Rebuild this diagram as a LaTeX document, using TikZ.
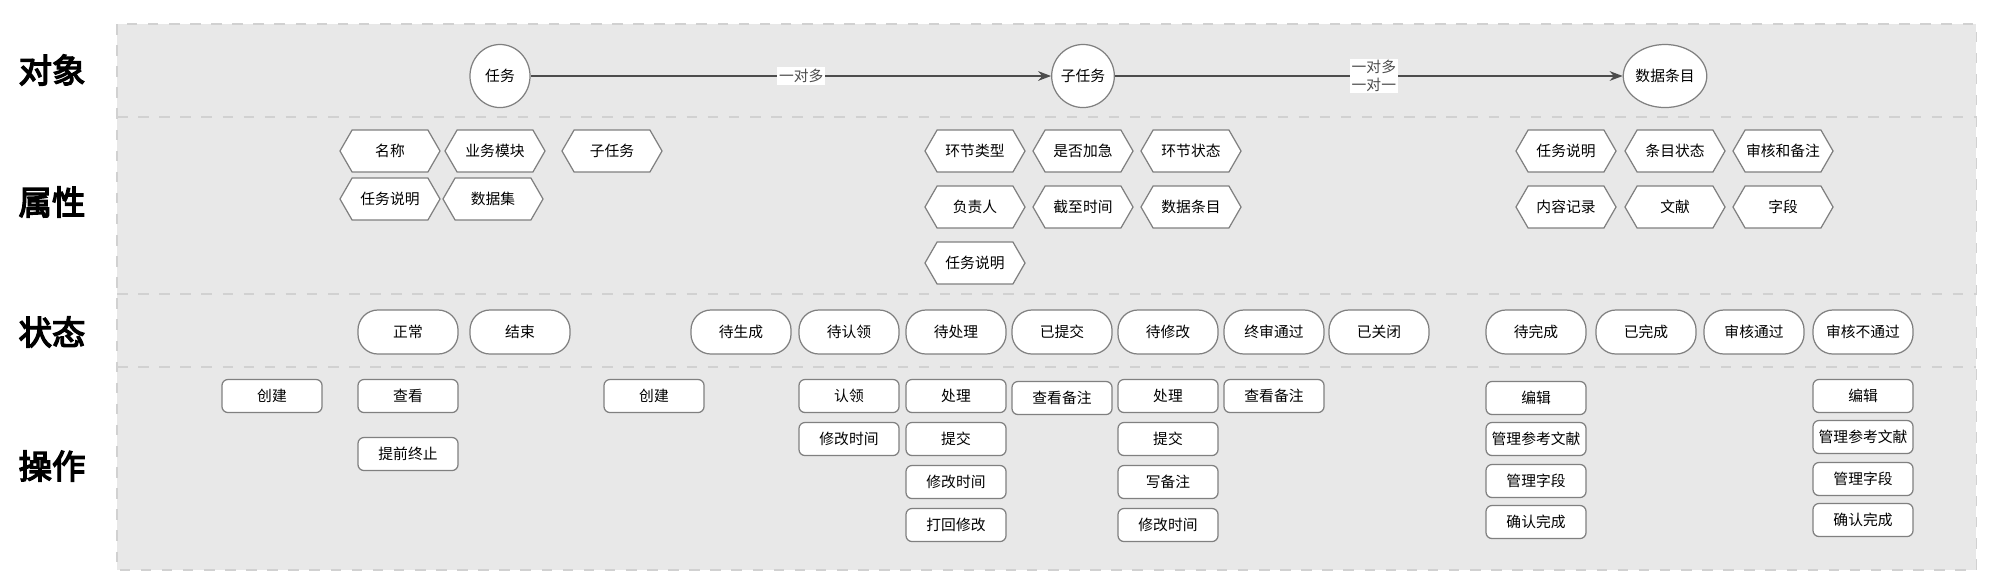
\documentclass[tikz,border=0pt]{standalone}
\usepackage{fontspec}
\setmainfont{Noto Sans CJK SC}[AutoFakeBold=4]
\usetikzlibrary{arrows.meta,shapes.symbols,shapes.geometric}
\begin{document}
\begin{tikzpicture}[
    x=0.01cm, y=-0.01cm,
    font=\fontsize{4.2}{5}\selectfont,
    obj/.style = {
      draw=black!50, fill=white, ellipse, inner sep=0pt,
      minimum width=0.6cm, minimum height=0.63cm, line width=0.35pt
    },
    attr/.style = {
      draw=black!50, fill=white, signal, signal to=east and west,
      signal pointer angle=120, inner sep=0pt, line width=0.35pt,
      minimum width=1cm, minimum height=0.42cm
    },
    state/.style = {
      draw=black!50, fill=white, rounded corners=0.2cm, inner sep=0pt,
      minimum width=1cm, minimum height=0.44cm, line width=0.35pt
    },
    op/.style = {
      draw=black!50, fill=white, rounded corners=0.06cm, inner sep=0pt,
      minimum width=1cm, minimum height=0.33cm, line width=0.35pt
    },
    rowlbl/.style = {font=\fontsize{9.5}{11}\selectfont\bfseries},
    sep/.style = {black!18, dashed, line width=0.3pt}
  ]
\useasboundingbox (0,0) rectangle (2000,584);
% panel
\fill[black!9] (117,24) rectangle (1976,570);
\draw[sep] (117,24) rectangle (1976,570);
\foreach \y in {117,294,367}
  \draw[sep] (117,\y) -- (1976,\y);

% row labels
\node[rowlbl] (lobj)   at (52,70)  {对象};
\node[rowlbl] (lattr)  at (52,202) {属性};
\node[rowlbl] (lstate) at (52,332) {状态};
\node[rowlbl] (lop)    at (52,466) {操作};

% objects
\node[obj] (task)  at (500,76)  {任务};
\node[obj] (sub)   at (1083,76) {子任务};
\node[obj] (item)  at (1665,76) {数据条目};
\draw[-{Stealth[length=1.3mm]},black!70,line width=0.4pt] (task) -- node[fill=white,inner sep=0.5pt,pos=0.52] {一对多} (sub);
\draw[-{Stealth[length=1.3mm]},black!70,line width=0.4pt] (sub) -- node[fill=white,inner sep=0.5pt,align=center,pos=0.51] {一对多\\一对一} (item);

% attributes
\node[attr] (a1) at (390,151) {名称};
\node[attr] (a2) at (495,151) {业务模块};
\node[attr] (a3) at (612,151) {子任务};
\node[attr] (a4) at (390,199) {任务说明};
\node[attr] (a5) at (493,199) {数据集};
\node[attr] (b1) at (975,151)  {环节类型};
\node[attr] (b2) at (1083,151) {是否加急};
\node[attr] (b3) at (1191,151) {环节状态};
\node[attr] (b4) at (975,207)  {负责人};
\node[attr] (b5) at (1083,207) {截至时间};
\node[attr] (b6) at (1191,207) {数据条目};
\node[attr] (b7) at (975,263)  {任务说明};
\node[attr] (c1) at (1566,151) {任务说明};
\node[attr] (c2) at (1675,151) {条目状态};
\node[attr] (c3) at (1783,151) {审核和备注};
\node[attr] (c4) at (1566,207) {内容记录};
\node[attr] (c5) at (1675,207) {文献};
\node[attr] (c6) at (1783,207) {字段};

% states
\node[state] (s1)  at (408,332)  {正常};
\node[state] (s2)  at (520,332)  {结束};
\node[state] (s3)  at (741,332)  {待生成};
\node[state] (s4)  at (849,332)  {待认领};
\node[state] (s5)  at (956,332)  {待处理};
\node[state] (s6)  at (1062,332) {已提交};
\node[state] (s7)  at (1168,332) {待修改};
\node[state] (s8)  at (1274,332) {终审通过};
\node[state] (s9)  at (1379,332) {已关闭};
\node[state] (s10) at (1536,332) {待完成};
\node[state] (s11) at (1646,332) {已完成};
\node[state] (s12) at (1754,332) {审核通过};
\node[state] (s13) at (1863,332) {审核不通过};

% operations
\node[op] (o1)  at (272,396)  {创建};
\node[op] (o2)  at (408,396)  {查看};
\node[op] (o3)  at (408,454)  {提前终止};
\node[op] (o4)  at (654,396)  {创建};
\node[op] (o5)  at (849,396)  {认领};
\node[op] (o6)  at (849,439)  {修改时间};
\node[op] (o7)  at (956,396)  {处理};
\node[op] (o8)  at (956,439)  {提交};
\node[op] (o9)  at (956,482)  {修改时间};
\node[op] (o10) at (956,525)  {打回修改};
\node[op] (o11) at (1062,398) {查看备注};
\node[op] (o12) at (1168,396) {处理};
\node[op] (o13) at (1168,439) {提交};
\node[op] (o14) at (1168,482) {写备注};
\node[op] (o15) at (1168,525) {修改时间};
\node[op] (o16) at (1274,396) {查看备注};
\node[op] (o17) at (1536,398) {编辑};
\node[op] (o18) at (1536,439) {管理参考文献};
\node[op] (o19) at (1536,481) {管理字段};
\node[op] (o20) at (1536,522) {确认完成};
\node[op] (o21) at (1863,396) {编辑};
\node[op] (o22) at (1863,437) {管理参考文献};
\node[op] (o23) at (1863,479) {管理字段};
\node[op] (o24) at (1863,520) {确认完成};
\end{tikzpicture}
\end{document}
